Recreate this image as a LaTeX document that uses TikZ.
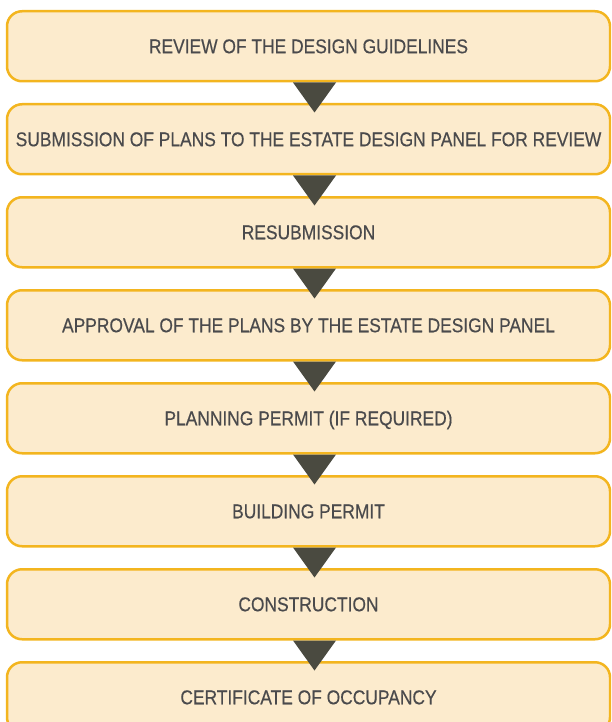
\documentclass[tikz,border=0pt]{standalone}
\usepackage{fontspec}
\setmainfont{Liberation Sans}[FakeStretch=0.87,FakeBold=0.4]
\usetikzlibrary{calc}
\definecolor{boxline}{HTML}{F3B51F}
\definecolor{boxfill}{HTML}{FCEBCD}
\definecolor{txt}{HTML}{4A4A4C}
\definecolor{tri}{HTML}{4A4A40}
\begin{document}
\begin{tikzpicture}[x=1pt,y=1pt,
  stepbox/.style={draw=boxline, fill=boxfill, line width=2.5pt, rounded corners=15pt,
    minimum width=603pt, minimum height=70pt, inner sep=0pt, text=txt,
    font=\fontsize{20}{24}\selectfont, text height=14pt, text depth=0pt, anchor=north},
  arrowtri/.style={fill=tri}
  ]
\useasboundingbox (0,0) rectangle (611,-722);
\clip (0,0) rectangle (611,-722);
\node[stepbox] (b1) at (308.5,-10) {REVIEW OF THE DESIGN GUIDELINES};
\node[stepbox] (b2) at (308.5,-103) {SUBMISSION OF PLANS TO THE ESTATE DESIGN PANEL FOR REVIEW};
\node[stepbox] (b3) at (308.5,-196) {RESUBMISSION};
\node[stepbox] (b4) at (308.5,-289) {APPROVAL OF THE PLANS BY THE ESTATE DESIGN PANEL};
\node[stepbox] (b5) at (308.5,-382) {PLANNING PERMIT (IF REQUIRED)};
\node[stepbox] (b6) at (308.5,-475) {BUILDING PERMIT};
\node[stepbox] (b7) at (308.5,-568) {CONSTRUCTION};
\node[stepbox] (b8) at (308.5,-661) {CERTIFICATE OF OCCUPANCY};
\foreach \i in {1,...,7}{
  \fill[arrowtri] ($(b\i.south)+(-15.5,0)$) -- ($(b\i.south)+(27.5,0)$) -- ($(b\i.south)+(6,-30)$) -- cycle;
}
\end{tikzpicture}
\end{document}
